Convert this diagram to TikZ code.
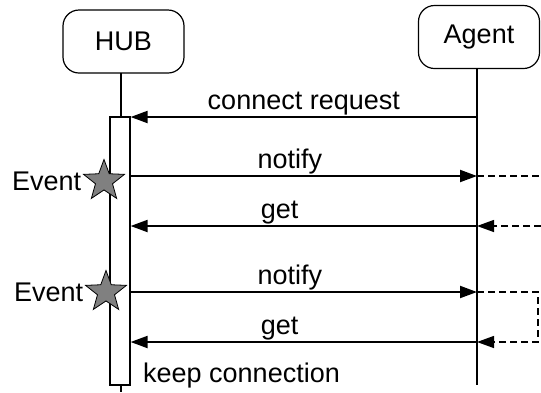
\documentclass[tikz,border=0pt]{standalone}
\usepackage{fontspec}
\setmainfont{Liberation Sans}
\usetikzlibrary{arrows.meta,shapes.geometric}

\begin{document}
\begin{tikzpicture}[x=1pt,y=-1pt,
  font=\fontsize{27}{32}\selectfont,
  actor/.style={draw,line width=1.2pt,rounded corners=16pt,minimum width=121pt,minimum height=63pt,inner sep=0pt},
  life/.style={line width=1.2pt},
  msg/.style={line width=2pt,-{Triangle[length=17pt,width=12pt]}},
  back/.style={line width=1.3pt,dash pattern=on 7pt off 4pt},
  backarr/.style={back,-{Triangle[length=17pt,width=12pt]}},
  event/.style={star,star points=5,star point ratio=2.4,draw,line width=0.8pt,fill=gray,minimum size=43pt,inner sep=0pt},
  lbl/.style={anchor=south,inner sep=0.5pt}]

\useasboundingbox (0,0) rectangle (541,392);

\node[actor] (hub) at (123.5,41.5) {HUB};
\node[actor] (agent) at (479,37) {Agent};

% lifelines
\coordinate (hubtop) at (121,73);
\coordinate (hubend) at (121,392);
\coordinate (agtop) at (477,69);
\coordinate (agend) at (477,385);
\node[draw,fill=white,line width=1.2pt,minimum width=20pt,minimum height=268pt,inner sep=0pt] (bar) at (120,251) {};
\draw[life] (hubtop)--(bar.north -| hubtop);
\draw[life] (bar.south -| hubend)--(hubend);
\draw[life] (agtop)--(agend);

% messages
\coordinate (m1) at (477,117);
\coordinate (m2) at (477,176);
\coordinate (m3) at (477,226);
\coordinate (m4) at (477,292);
\coordinate (m5) at (477,342);
\coordinate (r2) at (541,176);
\coordinate (r3) at (541,226);
\coordinate (r4) at (538,292);
\coordinate (r5) at (538,342);

\draw[msg] (m1)--(bar.east |- m1) node[lbl,pos=0.5]{connect request};
\draw[msg] (bar.east |- m2)--(m2) node[lbl,pos=0.46]{notify};
\draw[msg] (m3)--(bar.east |- m3) node[lbl,pos=0.57]{get};
\draw[msg] (bar.east |- m4)--(m4) node[lbl,pos=0.46]{notify};
\draw[msg] (m5)--(bar.east |- m5) node[lbl,pos=0.57]{get};

\draw[back] (m2)--(r2);
\draw[backarr] (r3)--(m3);
\draw[backarr] (m4)--(r4)--(r5)--(m5);

% events
\node[event] (ev1) at (104,181) {};
\node[event] (ev2) at (106,292) {};
\node[anchor=east,inner sep=1pt] (evt1) at (ev1.outer point 2 |- ev1.center) {Event};
\node[anchor=east,inner sep=1pt] (evt2) at (ev2.outer point 2 |- ev2.center) {Event};

\node[anchor=base west,inner sep=0pt] (keep) at (143,382) {keep connection};

\end{tikzpicture}
\end{document}
